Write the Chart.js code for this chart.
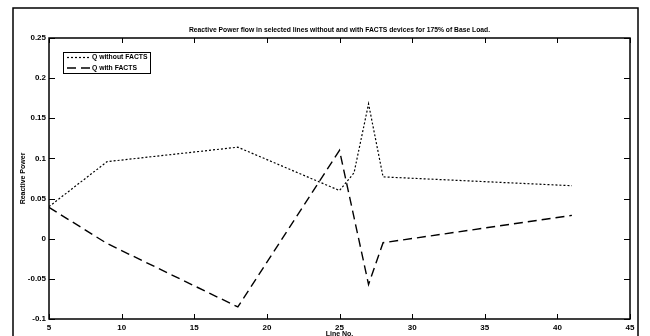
<!DOCTYPE html>
<html>
<head>
<meta charset="utf-8">
<script src="https://cdn.jsdelivr.net/npm/chart.js@4"></script>
<style>
  html, body { margin: 0; padding: 0; background: #fff; }
</style>
</head>
<body>
<canvas id="myChart" width="650" height="336"></canvas>
<script>
// values
const lineNoWithout = [5, 9, 18, 25, 26, 27, 28, 41];
const qWithout = [0.040, 0.096, 0.114, 0.060, 0.082, 0.168, 0.077, 0.066];
const lineNoWith = [5, 9, 18, 25, 27, 28, 41];
const qWith = [0.039, -0.006, -0.085, 0.110, -0.057, -0.005, 0.029];
const seriesNames = ['Q without FACTS', 'Q with FACTS'];

const FONT = 'Liberation Sans, Arial, sans-serif';

// frame, inward ticks, legend and texts, matlab style
const matlabLook = {
  id: 'matlabLook',
  afterDraw(chart) {
    const ctx = chart.ctx;
    const a = chart.chartArea;
    const xs = chart.scales.x, ys = chart.scales.y;
    ctx.save();
    ctx.strokeStyle = '#000';
    ctx.fillStyle = '#000';

    // outer figure frame
    ctx.lineWidth = 1.5;
    ctx.strokeRect(13, 8, 625, 340);

    // axes box
    ctx.lineWidth = 1.5;
    ctx.strokeRect(a.left, a.top, a.right - a.left, a.bottom - a.top);

    // ticks pointing in
    ctx.lineWidth = 1;
    ctx.beginPath();
    xs.ticks.forEach(t => {
      const px = Math.round(xs.getPixelForValue(t.value)) + 0.5;
      ctx.moveTo(px, a.bottom); ctx.lineTo(px, a.bottom - 5);
      ctx.moveTo(px, a.top); ctx.lineTo(px, a.top + 5);
    });
    ys.ticks.forEach(t => {
      const py = Math.round(ys.getPixelForValue(t.value)) + 0.5;
      ctx.moveTo(a.left, py); ctx.lineTo(a.left + 6, py);
      ctx.moveTo(a.right, py); ctx.lineTo(a.right - 6, py);
    });
    ctx.stroke();

    // title
    ctx.font = 'bold 6.75px ' + FONT;
    ctx.textAlign = 'center';
    ctx.textBaseline = 'middle';
    ctx.fillText('Reactive Power flow in selected lines without and with FACTS devices for 175% of Base Load.', (a.left + a.right) / 2, 30.5);

    // axis titles
    ctx.font = 'bold 7px ' + FONT;
    ctx.textBaseline = 'top';
    ctx.fillText('Line No.', (a.left + a.right) / 2, 331);
    ctx.save();
    ctx.translate(23, (a.top + a.bottom) / 2);
    ctx.rotate(-Math.PI / 2);
    ctx.textBaseline = 'middle';
    ctx.fillText('Reactive Power', 0, 0);
    ctx.restore();

    // legend
    ctx.fillStyle = '#fff';
    ctx.fillRect(63, 52, 87, 21);
    ctx.lineWidth = 1;
    ctx.strokeRect(63.5, 52.5, 87, 21);
    ctx.fillStyle = '#000';
    ctx.font = 'bold 6.8px ' + FONT;
    ctx.textAlign = 'left';
    ctx.textBaseline = 'middle';
    chart.data.datasets.forEach((ds, i) => {
      const y = 57.5 + i * 10.5;
      ctx.setLineDash(ds.borderDash);
      ctx.lineWidth = ds.borderWidth;
      ctx.beginPath();
      ctx.moveTo(67, y); ctx.lineTo(90, y);
      ctx.stroke();
      ctx.setLineDash([]);
      ctx.fillText(ds.label, 92, y);
    });
    ctx.restore();
  }
};

const ctx = document.getElementById('myChart');
new Chart(ctx, {
  type: 'line',
  data: {
    datasets: [
      {
        label: seriesNames[0],
        data: lineNoWithout.map((x, i) => ({ x: x, y: qWithout[i] })),
        borderColor: '#000',
        borderWidth: 1.2,
        borderDash: [2, 2],
        pointRadius: 0,
        tension: 0,
        fill: false
      },
      {
        label: seriesNames[1],
        data: lineNoWith.map((x, i) => ({ x: x, y: qWith[i] })),
        borderColor: '#000',
        borderWidth: 1.4,
        borderDash: [9, 5],
        pointRadius: 0,
        tension: 0,
        fill: false
      }
    ]
  },
  options: {
    responsive: false,
    animation: false,
    layout: { padding: { left: 13, top: 38, right: 20, bottom: 0 } },
    plugins: {
      legend: { display: false },
      tooltip: { enabled: false }
    },
    scales: {
      x: {
        type: 'linear',
        min: 5,
        max: 45,
        grid: { display: false, drawTicks: false },
        border: { display: false },
        ticks: { stepSize: 5, color: '#000', padding: 4, maxRotation: 0, font: { family: FONT, size: 8, weight: 'bold' } },
        afterFit: s => { s.height = 17; }
      },
      y: {
        min: -0.1,
        max: 0.25,
        grid: { display: false, drawTicks: false },
        border: { display: false },
        ticks: {
          stepSize: 0.05,
          color: '#000',
          padding: 3,
          font: { family: FONT, size: 8, weight: 'bold' },
          callback: v => String(+v.toFixed(2))
        },
        afterFit: s => { s.width = 36; }
      }
    }
  },
  plugins: [matlabLook]
});
</script>
</body>
</html>
